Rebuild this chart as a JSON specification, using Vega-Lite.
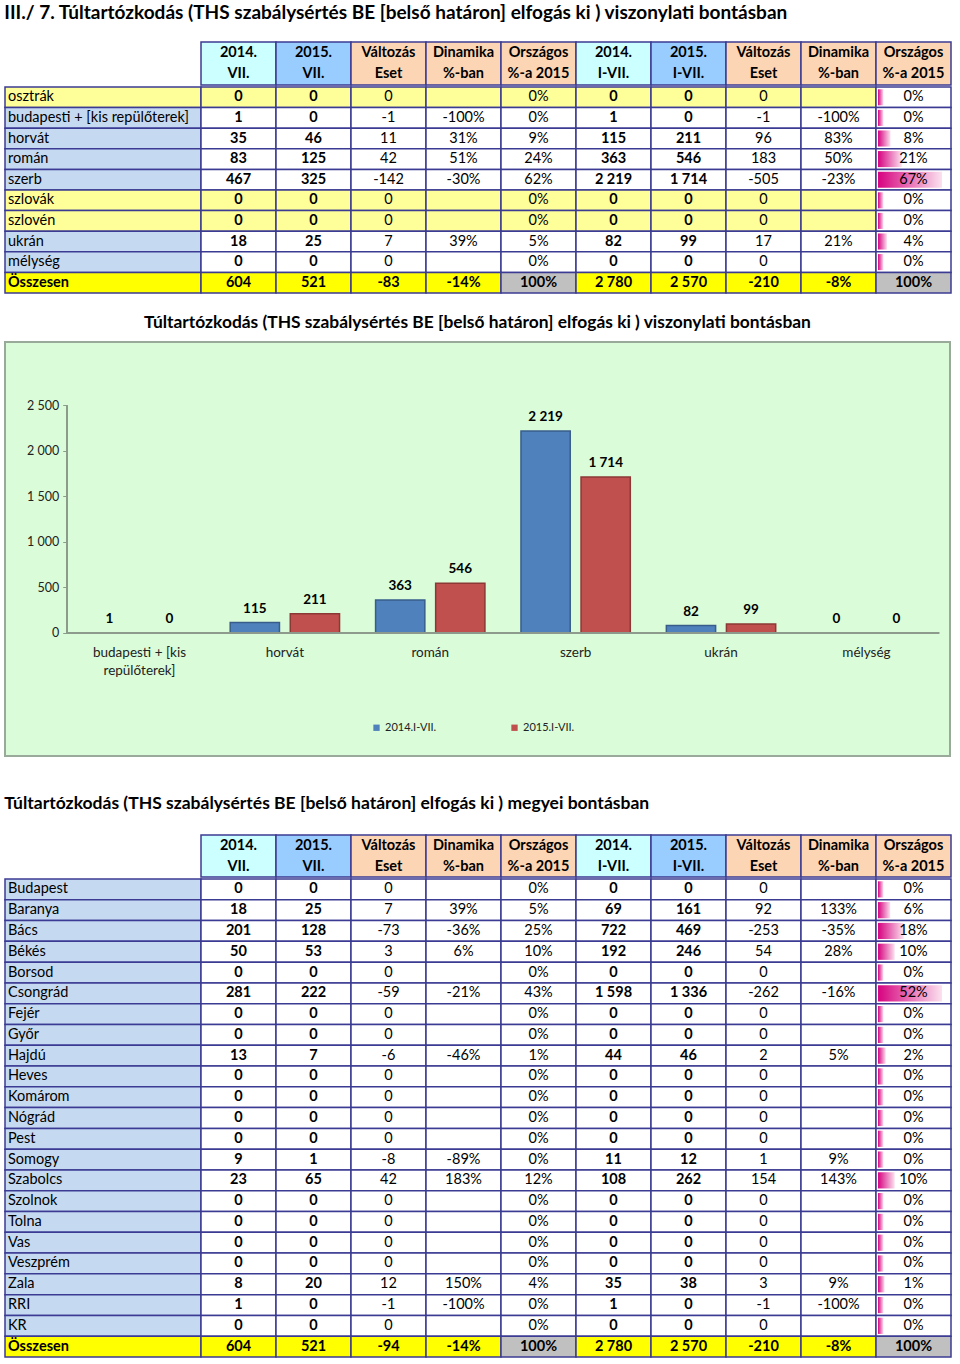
{
  "$schema": "https://vega.github.io/schema/vega-lite/v6.json",
  "background": "white",
  "padding": {"left": 4, "top": 4, "right": 0, "bottom": 0},
  "config": {
    "font": "Lato",
    "view": {"stroke": null},
    "locale": {"number": {"decimal": ",", "thousands": " ", "grouping": [3], "currency": ["", ""], "minus": "-"}},
    "text": {"fontSize": 14.5, "color": "#000000"},
    "title": {"color": "#000000"}
  },
  "datasets": {
    "hdr": [
      {"col": "jul2014", "head": "2014.\nVII."},
      {"col": "jul2015", "head": "2015.\nVII."},
      {"col": "jul_valt", "head": "Változás\nEset"},
      {"col": "jul_dyn", "head": "Dinamika\n%-ban"},
      {"col": "jul_orsz", "head": "Országos\n%-a 2015"},
      {"col": "ytd2014", "head": "2014.\nI-VII."},
      {"col": "ytd2015", "head": "2015.\nI-VII."},
      {"col": "ytd_valt", "head": "Változás\nEset"},
      {"col": "ytd_dyn", "head": "Dinamika\n%-ban"},
      {"col": "ytd_orsz", "head": "Országos\n%-a 2015"}
    ],
    "t1": [
      {"label": "osztrák", "schengen": true, "jul2014": 0, "jul2015": 0, "jul_valt": 0, "jul_dyn": null, "jul_orsz": 0, "ytd2014": 0, "ytd2015": 0, "ytd_valt": 0, "ytd_dyn": null, "ytd_orsz": 0},
      {"label": "budapesti + [kis repülőterek]", "schengen": false, "jul2014": 1, "jul2015": 0, "jul_valt": -1, "jul_dyn": -1, "jul_orsz": 0, "ytd2014": 1, "ytd2015": 0, "ytd_valt": -1, "ytd_dyn": -1, "ytd_orsz": 0},
      {"label": "horvát", "schengen": false, "jul2014": 35, "jul2015": 46, "jul_valt": 11, "jul_dyn": 0.31, "jul_orsz": 0.09, "ytd2014": 115, "ytd2015": 211, "ytd_valt": 96, "ytd_dyn": 0.83, "ytd_orsz": 0.08},
      {"label": "román", "schengen": false, "jul2014": 83, "jul2015": 125, "jul_valt": 42, "jul_dyn": 0.51, "jul_orsz": 0.24, "ytd2014": 363, "ytd2015": 546, "ytd_valt": 183, "ytd_dyn": 0.5, "ytd_orsz": 0.21},
      {"label": "szerb", "schengen": false, "jul2014": 467, "jul2015": 325, "jul_valt": -142, "jul_dyn": -0.3, "jul_orsz": 0.62, "ytd2014": 2219, "ytd2015": 1714, "ytd_valt": -505, "ytd_dyn": -0.23, "ytd_orsz": 0.67},
      {"label": "szlovák", "schengen": true, "jul2014": 0, "jul2015": 0, "jul_valt": 0, "jul_dyn": null, "jul_orsz": 0, "ytd2014": 0, "ytd2015": 0, "ytd_valt": 0, "ytd_dyn": null, "ytd_orsz": 0},
      {"label": "szlovén", "schengen": true, "jul2014": 0, "jul2015": 0, "jul_valt": 0, "jul_dyn": null, "jul_orsz": 0, "ytd2014": 0, "ytd2015": 0, "ytd_valt": 0, "ytd_dyn": null, "ytd_orsz": 0},
      {"label": "ukrán", "schengen": false, "jul2014": 18, "jul2015": 25, "jul_valt": 7, "jul_dyn": 0.39, "jul_orsz": 0.05, "ytd2014": 82, "ytd2015": 99, "ytd_valt": 17, "ytd_dyn": 0.21, "ytd_orsz": 0.04},
      {"label": "mélység", "schengen": false, "jul2014": 0, "jul2015": 0, "jul_valt": 0, "jul_dyn": null, "jul_orsz": 0, "ytd2014": 0, "ytd2015": 0, "ytd_valt": 0, "ytd_dyn": null, "ytd_orsz": 0},
      {"label": "Összesen", "schengen": false, "jul2014": 604, "jul2015": 521, "jul_valt": -83, "jul_dyn": -0.14, "jul_orsz": 1, "ytd2014": 2780, "ytd2015": 2570, "ytd_valt": -210, "ytd_dyn": -0.08, "ytd_orsz": 1}
    ],
    "t2": [
      {"label": "Budapest", "jul2014": 0, "jul2015": 0, "jul_valt": 0, "jul_dyn": null, "jul_orsz": 0, "ytd2014": 0, "ytd2015": 0, "ytd_valt": 0, "ytd_dyn": null, "ytd_orsz": 0},
      {"label": "Baranya", "jul2014": 18, "jul2015": 25, "jul_valt": 7, "jul_dyn": 0.39, "jul_orsz": 0.05, "ytd2014": 69, "ytd2015": 161, "ytd_valt": 92, "ytd_dyn": 1.33, "ytd_orsz": 0.06},
      {"label": "Bács", "jul2014": 201, "jul2015": 128, "jul_valt": -73, "jul_dyn": -0.36, "jul_orsz": 0.25, "ytd2014": 722, "ytd2015": 469, "ytd_valt": -253, "ytd_dyn": -0.35, "ytd_orsz": 0.18},
      {"label": "Békés", "jul2014": 50, "jul2015": 53, "jul_valt": 3, "jul_dyn": 0.06, "jul_orsz": 0.1, "ytd2014": 192, "ytd2015": 246, "ytd_valt": 54, "ytd_dyn": 0.28, "ytd_orsz": 0.1},
      {"label": "Borsod", "jul2014": 0, "jul2015": 0, "jul_valt": 0, "jul_dyn": null, "jul_orsz": 0, "ytd2014": 0, "ytd2015": 0, "ytd_valt": 0, "ytd_dyn": null, "ytd_orsz": 0},
      {"label": "Csongrád", "jul2014": 281, "jul2015": 222, "jul_valt": -59, "jul_dyn": -0.21, "jul_orsz": 0.43, "ytd2014": 1598, "ytd2015": 1336, "ytd_valt": -262, "ytd_dyn": -0.16, "ytd_orsz": 0.52},
      {"label": "Fejér", "jul2014": 0, "jul2015": 0, "jul_valt": 0, "jul_dyn": null, "jul_orsz": 0, "ytd2014": 0, "ytd2015": 0, "ytd_valt": 0, "ytd_dyn": null, "ytd_orsz": 0},
      {"label": "Győr", "jul2014": 0, "jul2015": 0, "jul_valt": 0, "jul_dyn": null, "jul_orsz": 0, "ytd2014": 0, "ytd2015": 0, "ytd_valt": 0, "ytd_dyn": null, "ytd_orsz": 0},
      {"label": "Hajdú", "jul2014": 13, "jul2015": 7, "jul_valt": -6, "jul_dyn": -0.46, "jul_orsz": 0.01, "ytd2014": 44, "ytd2015": 46, "ytd_valt": 2, "ytd_dyn": 0.05, "ytd_orsz": 0.02},
      {"label": "Heves", "jul2014": 0, "jul2015": 0, "jul_valt": 0, "jul_dyn": null, "jul_orsz": 0, "ytd2014": 0, "ytd2015": 0, "ytd_valt": 0, "ytd_dyn": null, "ytd_orsz": 0},
      {"label": "Komárom", "jul2014": 0, "jul2015": 0, "jul_valt": 0, "jul_dyn": null, "jul_orsz": 0, "ytd2014": 0, "ytd2015": 0, "ytd_valt": 0, "ytd_dyn": null, "ytd_orsz": 0},
      {"label": "Nógrád", "jul2014": 0, "jul2015": 0, "jul_valt": 0, "jul_dyn": null, "jul_orsz": 0, "ytd2014": 0, "ytd2015": 0, "ytd_valt": 0, "ytd_dyn": null, "ytd_orsz": 0},
      {"label": "Pest", "jul2014": 0, "jul2015": 0, "jul_valt": 0, "jul_dyn": null, "jul_orsz": 0, "ytd2014": 0, "ytd2015": 0, "ytd_valt": 0, "ytd_dyn": null, "ytd_orsz": 0},
      {"label": "Somogy", "jul2014": 9, "jul2015": 1, "jul_valt": -8, "jul_dyn": -0.89, "jul_orsz": 0, "ytd2014": 11, "ytd2015": 12, "ytd_valt": 1, "ytd_dyn": 0.09, "ytd_orsz": 0},
      {"label": "Szabolcs", "jul2014": 23, "jul2015": 65, "jul_valt": 42, "jul_dyn": 1.83, "jul_orsz": 0.12, "ytd2014": 108, "ytd2015": 262, "ytd_valt": 154, "ytd_dyn": 1.43, "ytd_orsz": 0.1},
      {"label": "Szolnok", "jul2014": 0, "jul2015": 0, "jul_valt": 0, "jul_dyn": null, "jul_orsz": 0, "ytd2014": 0, "ytd2015": 0, "ytd_valt": 0, "ytd_dyn": null, "ytd_orsz": 0},
      {"label": "Tolna", "jul2014": 0, "jul2015": 0, "jul_valt": 0, "jul_dyn": null, "jul_orsz": 0, "ytd2014": 0, "ytd2015": 0, "ytd_valt": 0, "ytd_dyn": null, "ytd_orsz": 0},
      {"label": "Vas", "jul2014": 0, "jul2015": 0, "jul_valt": 0, "jul_dyn": null, "jul_orsz": 0, "ytd2014": 0, "ytd2015": 0, "ytd_valt": 0, "ytd_dyn": null, "ytd_orsz": 0},
      {"label": "Veszprém", "jul2014": 0, "jul2015": 0, "jul_valt": 0, "jul_dyn": null, "jul_orsz": 0, "ytd2014": 0, "ytd2015": 0, "ytd_valt": 0, "ytd_dyn": null, "ytd_orsz": 0},
      {"label": "Zala", "jul2014": 8, "jul2015": 20, "jul_valt": 12, "jul_dyn": 1.5, "jul_orsz": 0.04, "ytd2014": 35, "ytd2015": 38, "ytd_valt": 3, "ytd_dyn": 0.09, "ytd_orsz": 0.01},
      {"label": "RRI", "jul2014": 1, "jul2015": 0, "jul_valt": -1, "jul_dyn": -1, "jul_orsz": 0, "ytd2014": 1, "ytd2015": 0, "ytd_valt": -1, "ytd_dyn": -1, "ytd_orsz": 0},
      {"label": "KR", "jul2014": 0, "jul2015": 0, "jul_valt": 0, "jul_dyn": null, "jul_orsz": 0, "ytd2014": 0, "ytd2015": 0, "ytd_valt": 0, "ytd_dyn": null, "ytd_orsz": 0},
      {"label": "Összesen", "jul2014": 604, "jul2015": 521, "jul_valt": -94, "jul_dyn": -0.14, "jul_orsz": 1, "ytd2014": 2780, "ytd2015": 2570, "ytd_valt": -210, "ytd_dyn": -0.08, "ytd_orsz": 1}
    ]
  },
  "spacing": 37,
  "resolve": {"scale": {"color": "independent", "fill": "independent", "stroke": "independent", "strokeWidth": "independent"}},
  "vconcat": [
    {
      "spacing": 19,
      "resolve": {"scale": {"color": "independent", "fill": "independent", "stroke": "independent", "strokeWidth": "independent"}},
      "vconcat": [
        {
          "title": {"text": "III./ 7. Túltartózkodás (THS szabálysértés BE [belső határon] elfogás ki ) viszonylati bontásban", "anchor": "start", "fontSize": 19, "fontWeight": "bold", "offset": 18},
          "spacing": 0,
          "vconcat": [
            {
              "spacing": 0,
              "bounds": "flush",
              "hconcat": [
                {"width": 196, "height": 43, "data": {"values": [{}]}, "mark": {"type": "rect", "fill": "#ffffff"}, "encoding": {}},
                {
                  "width": 750, "height": 43,
                  "data": {"name": "hdr"},
                  "encoding": {"x": {"field": "col", "type": "nominal", "sort": null, "axis": null, "scale": {"type": "band", "paddingInner": 0, "paddingOuter": 0}}},
                  "layer": [
                    {"mark": {"type": "rect", "stroke": "#3b3b93", "strokeWidth": 1.5},
                     "encoding": {"fill": {"field": "col", "type": "nominal", "legend": null, "scale": {"domain": ["jul2014", "jul2015", "jul_valt", "jul_dyn", "jul_orsz", "ytd2014", "ytd2015", "ytd_valt", "ytd_dyn", "ytd_orsz"], "range": ["#ccffff", "#99ccff", "#fcd5b4", "#fcd5b4", "#fcd5b4", "#ccffff", "#99ccff", "#fcd5b4", "#fcd5b4", "#fcd5b4"]}}}},
                    {"mark": {"type": "text", "fontWeight": "bold", "fontSize": 14.5, "lineBreak": "\n", "lineHeight": 21, "dy": -10.5},
                     "encoding": {"text": {"field": "head", "type": "nominal"}}}
                  ]
                }
              ]
            },
            {
              "spacing": 0,
              "bounds": "flush",
              "hconcat": [
                {
                  "width": 196, "height": 206,
                  "data": {"name": "t1"},
                  "encoding": {"y": {"field": "label", "type": "nominal", "sort": null, "axis": null, "scale": {"type": "band", "paddingInner": 0, "paddingOuter": 0}}},
                  "layer": [
                    {"mark": {"type": "rect", "stroke": "#3b3b93", "strokeWidth": 1.5},
                     "encoding": {"fill": {"condition": [{"test": "datum.label === 'Összesen'", "value": "#ffff00"}, {"test": "datum.schengen === true", "value": "#ffff99"}], "value": "#c5d9f1"}}},
                    {"transform": [{"filter": "datum.label !== 'Összesen'"}],
                     "mark": {"type": "text", "align": "left", "dx": 3},
                     "encoding": {"x": {"datum": "c", "type": "nominal", "bandPosition": 0, "axis": null, "scale": {"type": "band", "paddingInner": 0, "paddingOuter": 0}}, "text": {"field": "label", "type": "nominal"}}},
                    {"transform": [{"filter": "datum.label === 'Összesen'"}],
                     "mark": {"type": "text", "align": "left", "dx": 3, "fontWeight": "bold"},
                     "encoding": {"x": {"datum": "c", "type": "nominal", "bandPosition": 0, "axis": null}, "text": {"field": "label", "type": "nominal"}}}
                  ]
                },
                {
                  "width": 675, "height": 206,
                  "data": {"name": "t1"},
                  "transform": [{"fold": ["jul2014", "jul2015", "jul_valt", "jul_dyn", "jul_orsz", "ytd2014", "ytd2015", "ytd_valt", "ytd_dyn"], "as": ["key", "value"]}],
                  "encoding": {
                    "x": {"field": "key", "type": "nominal", "axis": null, "scale": {"type": "band", "domain": ["jul2014", "jul2015", "jul_valt", "jul_dyn", "jul_orsz", "ytd2014", "ytd2015", "ytd_valt", "ytd_dyn"], "paddingInner": 0, "paddingOuter": 0}},
                    "y": {"field": "label", "type": "nominal", "sort": null, "axis": null, "scale": {"type": "band", "paddingInner": 0, "paddingOuter": 0}}
                  },
                  "layer": [
                    {"mark": {"type": "rect", "stroke": "#3b3b93", "strokeWidth": 1.5},
                     "encoding": {"fill": {"condition": [{"test": "datum.label === 'Összesen' && datum.key === 'jul_orsz'", "value": "#c0c0c0"}, {"test": "datum.label === 'Összesen'", "value": "#ffff00"}, {"test": "datum.schengen === true", "value": "#ffff99"}], "value": "#ffffff"}}},
                    {"transform": [{"filter": "indexof(['jul2014','jul2015','ytd2014','ytd2015'], datum.key) >= 0 || (datum.label === 'Összesen' && indexof(['jul_valt','ytd_valt'], datum.key) >= 0)"}],
                     "mark": {"type": "text", "fontWeight": "bold"},
                     "encoding": {"text": {"field": "value", "type": "quantitative", "format": ",d"}}},
                    {"transform": [{"filter": "datum.label !== 'Összesen' && indexof(['jul_valt','ytd_valt'], datum.key) >= 0"}],
                     "mark": {"type": "text"},
                     "encoding": {"text": {"field": "value", "type": "quantitative", "format": ",d"}}},
                    {"transform": [{"filter": "datum.label !== 'Összesen' && indexof(['jul_dyn','jul_orsz','ytd_dyn'], datum.key) >= 0 && isValid(datum.value)"}],
                     "mark": {"type": "text"},
                     "encoding": {"text": {"field": "value", "type": "quantitative", "format": ".0%"}}},
                    {"transform": [{"filter": "datum.label === 'Összesen' && indexof(['jul_dyn','jul_orsz','ytd_dyn'], datum.key) >= 0"}],
                     "mark": {"type": "text", "fontWeight": "bold"},
                     "encoding": {"text": {"field": "value", "type": "quantitative", "format": ".0%"}}}
                  ]
                },
                {
                  "width": 75, "height": 206,
                  "data": {"name": "t1"},
                  "encoding": {"y": {"field": "label", "type": "nominal", "sort": null, "axis": null, "scale": {"type": "band", "paddingInner": 0, "paddingOuter": 0}}},
                  "layer": [
                    {"mark": {"type": "rect", "stroke": "#3b3b93", "strokeWidth": 1.5},
                     "encoding": {"fill": {"condition": {"test": "datum.label === 'Összesen'", "value": "#c0c0c0"}, "value": "#ffffff"}}},
                    {"transform": [{"filter": "datum.label !== 'Összesen'"}],
                     "mark": {"type": "bar", "height": {"band": 0.78}, "color": {"gradient": "linear", "x1": 0, "y1": 0, "x2": 1, "y2": 0, "stops": [{"offset": 0, "color": "#d6037f"}, {"offset": 1, "color": "#fbe2ef"}]}},
                     "encoding": {"x": {"field": "ytd_orsz", "type": "quantitative", "axis": null, "scale": {"domain": [-0.0859, 0.773], "nice": false, "zero": false}}, "x2": {"datum": -0.063}}},
                    {"transform": [{"filter": "datum.label !== 'Összesen'"}],
                     "mark": {"type": "text"},
                     "encoding": {"text": {"field": "ytd_orsz", "type": "quantitative", "format": ".0%"}}},
                    {"transform": [{"filter": "datum.label === 'Összesen'"}],
                     "mark": {"type": "text", "fontWeight": "bold"},
                     "encoding": {"text": {"field": "ytd_orsz", "type": "quantitative", "format": ".0%"}}}
                  ]
                }
              ]
            }
          ]
        },
        {
          "width": 945, "height": 414,
          "title": {"text": "Túltartózkodás (THS szabálysértés BE [belső határon] elfogás ki ) viszonylati bontásban", "fontSize": 17.4, "fontWeight": "bold", "anchor": "middle", "offset": 10.5},
          "view": {"fill": "#dafcd9", "stroke": "#9aaa9a", "strokeWidth": 2},
          "data": {"name": "t1"},
          "transform": [{"filter": "datum.schengen !== true && datum.label !== 'Összesen'"}, {"fold": ["ytd2014", "ytd2015"], "as": ["series", "value"]}],
          "encoding": {
            "x": {"field": "label", "type": "nominal", "sort": null, "title": null,
                  "scale": {"type": "band", "paddingInner": 0, "paddingOuter": 0.25, "align": 0.85},
                  "axis": {"orient": "bottom", "offset": -123, "domain": false, "ticks": false, "labelPadding": 12, "labelFontSize": 13.5, "labelColor": "#222222", "labelAngle": 0, "labelLineHeight": 18, "labelLimit": 0,
                           "labelExpr": "datum.value === 'budapesti + [kis repülőterek]' ? ['budapesti + [kis', 'repülőterek]'] : datum.value"}},
            "y": {"field": "value", "type": "quantitative", "title": null,
                  "scale": {"domain": [-1352, 3197.5], "nice": false, "zero": false},
                  "axis": {"orient": "left", "offset": -61.7, "values": [0, 500, 1000, 1500, 2000, 2500], "format": ",d", "domain": false, "grid": false, "tickSize": 4, "tickColor": "#8c9c8c", "labelPadding": 4, "labelFontSize": 12.5, "labelColor": "#222222"}}
          },
          "layer": [
            {"mark": {"type": "bar"},
             "encoding": {
               "xOffset": {"field": "series", "type": "nominal", "scale": {"paddingInner": 0.18, "paddingOuter": 0.3}},
               "y2": {"datum": 0},
               "color": {"field": "series", "type": "nominal", "scale": {"domain": ["ytd2014", "ytd2015"], "range": ["#4f81bd", "#c0504d"]},
                         "legend": {"orient": "none", "legendX": 366, "legendY": 380, "direction": "horizontal", "title": null, "symbolType": "square", "symbolSize": 40, "labelFontSize": 11, "labelColor": "#222222", "columnPadding": 72, "labelOffset": 3, "symbolStrokeWidth": 0,
                                    "labelExpr": "datum.label === 'ytd2014' ? '2014.I-VII.' : '2015.I-VII.'"}},
               "stroke": {"field": "series", "type": "nominal", "scale": {"domain": ["ytd2014", "ytd2015"], "range": ["#385d8a", "#8c3836"]}, "legend": null},
               "strokeWidth": {"condition": {"test": "datum.value < 30", "value": 0}, "value": 1.5}
             }},
            {"mark": {"type": "text", "fontWeight": "bold", "fontSize": 13.5, "baseline": "alphabetic", "dy": -10},
             "encoding": {"xOffset": {"field": "series", "type": "nominal"}, "text": {"field": "value", "type": "quantitative", "format": ",d"}}},
            {"mark": {"type": "rule", "color": "#8c9c8c", "strokeWidth": 1},
             "encoding": {"x": {"datum": "budapesti + [kis repülőterek]", "type": "nominal", "bandPosition": 0}, "y": {"datum": 0, "type": "quantitative"}, "y2": {"datum": 2500}}},
            {"mark": {"type": "rule", "color": "#8c9c8c", "strokeWidth": 1},
             "encoding": {"x": {"datum": "budapesti + [kis repülőterek]", "type": "nominal", "bandPosition": 0}, "x2": {"datum": "mélység", "bandPosition": 1}, "y": {"datum": 0, "type": "quantitative"}}}
          ]
        }
      ]
    },
    {
      "title": {"text": "Túltartózkodás (THS szabálysértés BE [belső határon] elfogás ki ) megyei bontásban", "anchor": "start", "fontSize": 17.5, "fontWeight": "bold", "offset": 22},
      "spacing": 0,
      "vconcat": [
        {
          "spacing": 0,
          "bounds": "flush",
          "hconcat": [
            {"width": 196, "height": 42, "data": {"values": [{}]}, "mark": {"type": "rect", "fill": "#ffffff"}, "encoding": {}},
            {
              "width": 750, "height": 42,
              "data": {"name": "hdr"},
              "encoding": {"x": {"field": "col", "type": "nominal", "sort": null, "axis": null, "scale": {"type": "band", "paddingInner": 0, "paddingOuter": 0}}},
              "layer": [
                {"mark": {"type": "rect", "stroke": "#3b3b93", "strokeWidth": 1.5},
                 "encoding": {"fill": {"field": "col", "type": "nominal", "legend": null, "scale": {"domain": ["jul2014", "jul2015", "jul_valt", "jul_dyn", "jul_orsz", "ytd2014", "ytd2015", "ytd_valt", "ytd_dyn", "ytd_orsz"], "range": ["#ccffff", "#99ccff", "#fcd5b4", "#fcd5b4", "#fcd5b4", "#ccffff", "#99ccff", "#fcd5b4", "#fcd5b4", "#fcd5b4"]}}}},
                {"mark": {"type": "text", "fontWeight": "bold", "fontSize": 14.5, "lineBreak": "\n", "lineHeight": 21, "dy": -10.5},
                 "encoding": {"text": {"field": "head", "type": "nominal"}}}
              ]
            }
          ]
        },
        {
          "spacing": 0,
          "bounds": "flush",
          "hconcat": [
            {
              "width": 196, "height": 478,
              "data": {"name": "t2"},
              "encoding": {"y": {"field": "label", "type": "nominal", "sort": null, "axis": null, "scale": {"type": "band", "paddingInner": 0, "paddingOuter": 0}}},
              "layer": [
                {"mark": {"type": "rect", "stroke": "#3b3b93", "strokeWidth": 1.5},
                 "encoding": {"fill": {"condition": [{"test": "datum.label === 'Összesen'", "value": "#ffff00"}, {"test": "datum.schengen === true", "value": "#ffff99"}], "value": "#c5d9f1"}}},
                {"transform": [{"filter": "datum.label !== 'Összesen'"}],
                 "mark": {"type": "text", "align": "left", "dx": 3},
                 "encoding": {"x": {"datum": "c", "type": "nominal", "bandPosition": 0, "axis": null, "scale": {"type": "band", "paddingInner": 0, "paddingOuter": 0}}, "text": {"field": "label", "type": "nominal"}}},
                {"transform": [{"filter": "datum.label === 'Összesen'"}],
                 "mark": {"type": "text", "align": "left", "dx": 3, "fontWeight": "bold"},
                 "encoding": {"x": {"datum": "c", "type": "nominal", "bandPosition": 0, "axis": null}, "text": {"field": "label", "type": "nominal"}}}
              ]
            },
            {
              "width": 675, "height": 478,
              "data": {"name": "t2"},
              "transform": [{"fold": ["jul2014", "jul2015", "jul_valt", "jul_dyn", "jul_orsz", "ytd2014", "ytd2015", "ytd_valt", "ytd_dyn"], "as": ["key", "value"]}],
              "encoding": {
                "x": {"field": "key", "type": "nominal", "axis": null, "scale": {"type": "band", "domain": ["jul2014", "jul2015", "jul_valt", "jul_dyn", "jul_orsz", "ytd2014", "ytd2015", "ytd_valt", "ytd_dyn"], "paddingInner": 0, "paddingOuter": 0}},
                "y": {"field": "label", "type": "nominal", "sort": null, "axis": null, "scale": {"type": "band", "paddingInner": 0, "paddingOuter": 0}}
              },
              "layer": [
                {"mark": {"type": "rect", "stroke": "#3b3b93", "strokeWidth": 1.5},
                 "encoding": {"fill": {"condition": [{"test": "datum.label === 'Összesen' && datum.key === 'jul_orsz'", "value": "#c0c0c0"}, {"test": "datum.label === 'Összesen'", "value": "#ffff00"}, {"test": "datum.schengen === true", "value": "#ffff99"}], "value": "#ffffff"}}},
                {"transform": [{"filter": "indexof(['jul2014','jul2015','ytd2014','ytd2015'], datum.key) >= 0 || (datum.label === 'Összesen' && indexof(['jul_valt','ytd_valt'], datum.key) >= 0)"}],
                 "mark": {"type": "text", "fontWeight": "bold"},
                 "encoding": {"text": {"field": "value", "type": "quantitative", "format": ",d"}}},
                {"transform": [{"filter": "datum.label !== 'Összesen' && indexof(['jul_valt','ytd_valt'], datum.key) >= 0"}],
                 "mark": {"type": "text"},
                 "encoding": {"text": {"field": "value", "type": "quantitative", "format": ",d"}}},
                {"transform": [{"filter": "datum.label !== 'Összesen' && indexof(['jul_dyn','jul_orsz','ytd_dyn'], datum.key) >= 0 && isValid(datum.value)"}],
                 "mark": {"type": "text"},
                 "encoding": {"text": {"field": "value", "type": "quantitative", "format": ".0%"}}},
                {"transform": [{"filter": "datum.label === 'Összesen' && indexof(['jul_dyn','jul_orsz','ytd_dyn'], datum.key) >= 0"}],
                 "mark": {"type": "text", "fontWeight": "bold"},
                 "encoding": {"text": {"field": "value", "type": "quantitative", "format": ".0%"}}}
              ]
            },
            {
              "width": 75, "height": 478,
              "data": {"name": "t2"},
              "encoding": {"y": {"field": "label", "type": "nominal", "sort": null, "axis": null, "scale": {"type": "band", "paddingInner": 0, "paddingOuter": 0}}},
              "layer": [
                {"mark": {"type": "rect", "stroke": "#3b3b93", "strokeWidth": 1.5},
                 "encoding": {"fill": {"condition": {"test": "datum.label === 'Összesen'", "value": "#c0c0c0"}, "value": "#ffffff"}}},
                {"transform": [{"filter": "datum.label !== 'Összesen'"}],
                 "mark": {"type": "bar", "height": {"band": 0.78}, "color": {"gradient": "linear", "x1": 0, "y1": 0, "x2": 1, "y2": 0, "stops": [{"offset": 0, "color": "#d6037f"}, {"offset": 1, "color": "#fbe2ef"}]}},
                 "encoding": {"x": {"field": "ytd_orsz", "type": "quantitative", "axis": null, "scale": {"domain": [-0.0667, 0.6], "nice": false, "zero": false}}, "x2": {"datum": -0.049}}},
                {"transform": [{"filter": "datum.label !== 'Összesen'"}],
                 "mark": {"type": "text"},
                 "encoding": {"text": {"field": "ytd_orsz", "type": "quantitative", "format": ".0%"}}},
                {"transform": [{"filter": "datum.label === 'Összesen'"}],
                 "mark": {"type": "text", "fontWeight": "bold"},
                 "encoding": {"text": {"field": "ytd_orsz", "type": "quantitative", "format": ".0%"}}}
              ]
            }
          ]
        }
      ]
    }
  ]
}
